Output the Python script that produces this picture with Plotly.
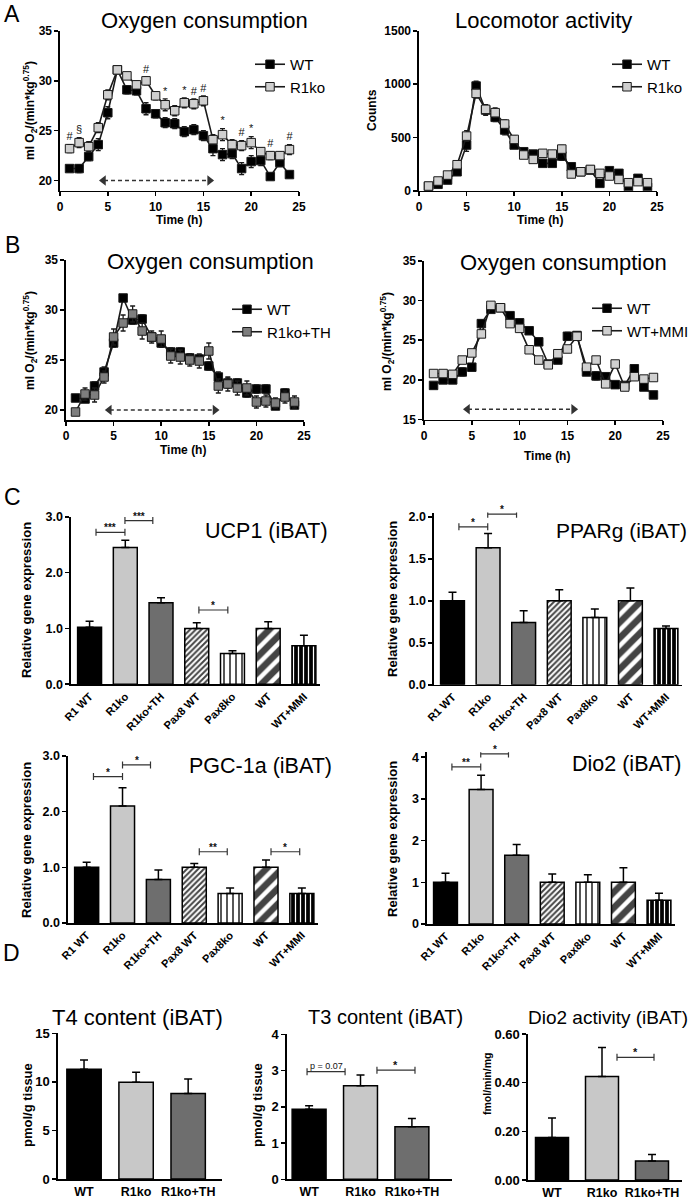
import plotly.graph_objects as go

W, H = 693, 1199
FONT = "Liberation Sans, Arial, Helvetica, sans-serif"

# ---------------- DATA ----------------
HOURS = list(range(1, 25))

# Panel A left: oxygen consumption WT vs R1ko
A_O2_WT = [21.2, 21.2, 22.4, 23.6, 26.8, 31.1, 29.1, 29.0, 27.2, 26.7, 25.8, 25.7,
           24.9, 25.1, 24.5, 23.2, 22.6, 22.7, 21.2, 21.9, 22.0, 20.4, 21.8, 20.6]
A_O2_WT_SEM = [0.3, 0.4, 0.4, 0.6, 0.6, 0.3, 0.4, 0.4, 0.6, 0.4, 0.5, 0.5,
               0.5, 0.5, 0.5, 0.7, 0.6, 0.5, 0.6, 0.6, 0.5, 0.3, 0.4, 0.3]
A_O2_R1KO = [23.2, 23.8, 23.4, 25.3, 28.6, 31.1, 30.5, 29.6, 30.0, 28.5, 27.6, 27.0,
             27.8, 27.7, 28.0, 24.1, 24.6, 23.6, 23.5, 23.8, 22.9, 22.5, 22.5, 23.1]
A_O2_R1KO_SEM = [0.4, 0.5, 0.5, 0.5, 0.5, 0.3, 0.3, 0.4, 0.4, 0.4, 0.6, 0.5,
                 0.5, 0.5, 0.5, 0.5, 0.6, 0.5, 0.5, 0.6, 0.4, 0.4, 0.4, 0.5]
A_O2_SIG = ["#", "§", "", "", "", "", "", "", "#", "", "*", "",
            "*", "#", "#", "", "*", "", "#", "*", "", "#", "", "#"]

# Panel A right: locomotor activity
A_LOCO_WT = [40, 60, 100, 178, 429, 983, 758, 689, 570, 429, 366, 344,
             257, 257, 326, 225, 178, 194, 69, 188, 163, 31, 116, 31]
A_LOCO_WT_SEM = [10, 15, 20, 30, 60, 45, 50, 40, 45, 30, 25, 25,
                 25, 25, 40, 25, 25, 20, 20, 20, 20, 10, 20, 10]
A_LOCO_R1KO = [44, 91, 147, 244, 513, 914, 764, 733, 626, 482, 335, 294,
               351, 344, 391, 157, 178, 200, 163, 138, 106, 75, 85, 75]
A_LOCO_R1KO_SEM = [10, 15, 20, 30, 50, 45, 45, 45, 40, 35, 25, 25,
                   30, 30, 35, 20, 20, 20, 20, 20, 20, 15, 15, 15]

# Panel B left: WT vs R1ko+TH
B_O2_WT = [21.2, 21.1, 22.4, 23.8, 26.7, 31.2, 29.0, 29.1, 27.3, 26.7, 25.8, 25.8,
           25.2, 25.1, 24.4, 23.3, 22.7, 22.7, 21.7, 22.1, 22.1, 20.4, 21.7, 20.5]
B_O2_WT_SEM = [0.3, 0.3, 0.4, 0.5, 0.4, 0.3, 0.4, 0.4, 0.4, 0.4, 0.4, 0.4,
               0.4, 0.4, 0.4, 0.5, 0.5, 0.4, 0.4, 0.4, 0.4, 0.3, 0.4, 0.3]
B_O2_R1KOTH = [19.8, 21.6, 21.5, 23.3, 27.3, 28.7, 29.6, 27.9, 27.3, 27.1, 25.4, 25.3,
               25.0, 24.9, 25.9, 22.4, 22.6, 22.2, 22.2, 20.8, 20.9, 20.7, 21.3, 20.8]
B_O2_R1KOTH_SEM = [0.3, 0.6, 0.7, 0.6, 0.8, 0.8, 0.8, 0.8, 0.6, 0.8, 0.7, 0.7,
                   0.6, 0.7, 0.8, 0.7, 0.7, 0.7, 0.7, 0.6, 0.6, 0.5, 0.6, 0.6]

# Panel B right: WT vs WT+MMI
B_O2_CTRL = [19.3, 20.0, 20.0, 21.0, 21.6, 27.1, 28.9, 29.1, 28.1, 27.2, 26.2, 24.8,
             22.0, 22.5, 25.5, 25.6, 21.0, 20.5, 20.4, 19.4, 19.3, 21.4, 19.1, 18.1]
B_O2_CTRL_SEM = [0.3, 0.4, 0.3, 0.5, 0.4, 0.4, 0.3, 0.3, 0.3, 0.3, 0.3, 0.3,
                 0.3, 0.4, 0.5, 0.4, 0.3, 0.5, 0.4, 0.3, 0.3, 0.4, 0.3, 0.2]
B_O2_MMI = [20.8, 20.8, 20.7, 22.5, 23.4, 25.8, 29.4, 29.1, 27.1, 26.5, 23.8, 22.5,
            21.9, 23.3, 23.9, 25.5, 21.6, 22.5, 19.5, 22.0, 19.1, 20.4, 20.1, 20.3]
B_O2_MMI_SEM = [0.2, 0.2, 0.2, 0.3, 0.3, 0.3, 0.2, 0.2, 0.3, 0.3, 0.3, 0.3,
                0.2, 0.3, 0.3, 0.3, 0.3, 0.3, 0.3, 0.3, 0.2, 0.3, 0.3, 0.3]

# Panel C: relative gene expression (iBAT)
GENE_CATS = ["R1 WT", "R1ko", "R1ko+TH", "Pax8 WT", "Pax8ko", "WT", "WT+MMI"]
UCP1 = [1.02, 2.45, 1.46, 1.00, 0.55, 1.00, 0.69]
UCP1_SEM = [0.11, 0.13, 0.09, 0.10, 0.05, 0.12, 0.19]
PPARG = [1.00, 1.63, 0.74, 1.00, 0.80, 1.00, 0.67]
PPARG_SEM = [0.10, 0.17, 0.14, 0.13, 0.10, 0.15, 0.03]
PGC1A = [1.00, 2.10, 0.78, 1.00, 0.53, 1.00, 0.53]
PGC1A_SEM = [0.09, 0.33, 0.17, 0.07, 0.10, 0.13, 0.10]
DIO2 = [1.00, 3.23, 1.65, 1.00, 1.00, 1.00, 0.57]
DIO2_SEM = [0.22, 0.34, 0.26, 0.20, 0.18, 0.35, 0.17]

# Panel D: thyroid hormone content / Dio2 activity (iBAT)
D_CATS = ["WT", "R1ko", "R1ko+TH"]
T4 = [11.3, 9.95, 8.8]
T4_SEM = [0.95, 1.05, 1.5]
T3 = [1.93, 2.58, 1.45]
T3_SEM = [0.10, 0.30, 0.23]
DIO2_ACT = [0.175, 0.425, 0.078]
DIO2_ACT_SEM = [0.08, 0.12, 0.027]

# dark phase (double arrow) in hours
DARK_PHASE = (4.2, 16.0)

# significance brackets: (from category, to category, label, level)
UCP1_BR = [(0.18, 0.99, "***", 2.72), (0.99, 1.77, "***", 2.93), (3.06, 3.87, "*", 1.33)]
PPARG_BR = [(0.18, 0.99, "*", 1.88), (0.99, 1.80, "*", 2.03)]
PGC1A_BR = [(0.19, 1.00, "*", 2.63), (1.00, 1.78, "*", 2.84), (3.14, 3.92, "**", 1.28), (5.14, 5.94, "*", 1.28)]
DIO2_BR = [(0.18, 0.99, "**", 3.77), (0.99, 1.77, "*", 4.08)]
T3_BR = [(-0.04, 0.70, "p = 0.07", 2.97), (1.32, 2.06, "*", 3.01)]
DIO2_ACT_BR = [(1.30, 2.04, "*", 0.504)]

# ---------------- STYLES ----------------
GENE_FILL = ["black", "#c8c8c8", "#6e6e6e", "white", "white", "white", "black"]
GENE_SHAPE = ["", "", "", "/", "|", "/", "|"]
GENE_FG = ["black", "black", "black", "#333333", "black", "black", "white"]
GENE_PSIZE = [8, 8, 8, 4, 6, 11, 5]
GENE_SOLID = [0.3, 0.3, 0.3, 0.5, 0.3, 0.6, 0.25]
D_FILL = ["black", "#c8c8c8", "#6e6e6e"]

fig = go.Figure()
annotations = []
shapes = []
AXINFO = {}


def keys(i):
    s = "" if i == 1 else str(i)
    return "xaxis" + s, "yaxis" + s, "x" + s, "y" + s


def setup(i, xpx, ypx, xrange, yrange, yticks, yfmt, xticks=None, xlabels=None,
          xangle=0, xtickmarks=True, xfont=12, yfont=12):
    xa, ya, xr, yr = keys(i)
    base = dict(showline=True, linecolor="black", linewidth=1.6, showgrid=False,
                zeroline=False, tickcolor="black", tickwidth=1.6, ticklen=4,
                fixedrange=True, automargin=False)
    xd = dict(base, domain=[xpx[0] / W, xpx[1] / W], range=xrange, anchor=yr,
              ticks="outside" if xtickmarks else "", tickmode="array",
              tickvals=xticks, ticktext=xlabels, tickangle=xangle,
              tickfont=dict(family=FONT, size=xfont, color="black", weight="bold"))
    yd = dict(base, domain=[1 - ypx[1] / H, 1 - ypx[0] / H], range=yrange, anchor=xr,
              ticks="outside", tickmode="array", tickvals=yticks,
              ticktext=[yfmt.format(v) for v in yticks],
              tickfont=dict(family=FONT, size=yfont, color="black", weight="bold"))
    fig.update_layout({xa: xd, ya: yd})
    AXINFO[i] = dict(xr=xr, yr=yr, upp=(yrange[1] - yrange[0]) / (ypx[1] - ypx[0]))
    return xr, yr


def text(px, py, s, size=11, bold=False, angle=0, color="black", xanchor="center"):
    annotations.append(dict(xref="paper", yref="paper", x=px / W, y=1 - py / H, text=s,
                            showarrow=False, textangle=angle, xanchor=xanchor,
                            yanchor="middle", borderpad=0,
                            font=dict(family=FONT, size=size, color=color,
                                      weight="bold" if bold else "normal")))


def line_pair(i, s1, s2, legend):
    xr, yr = AXINFO[i]["xr"], AXINFO[i]["yr"]
    for (name, y, sem, fill) in (s1, s2):
        fig.add_trace(go.Scatter(
            x=HOURS, y=y, mode="lines+markers", name=name, legend=legend,
            line=dict(color="#1a1a1a", width=1.6),
            marker=dict(symbol="square", size=8.5, color=fill,
                        line=dict(color="#1a1a1a", width=1)),
            error_y=dict(type="data", array=sem, color="#1a1a1a", thickness=1.3, width=2.5),
            xaxis=xr, yaxis=yr, hoverinfo="skip"))


def arrow(i, yval):
    xr, yr = AXINFO[i]["xr"], AXINFO[i]["yr"]
    a, b = DARK_PHASE
    shapes.append(dict(type="line", xref=xr, yref=yr, x0=a + 0.4, x1=b - 0.4, y0=yval, y1=yval,
                       line=dict(color="#333", width=1.6, dash="4px,3px")))
    fig.add_trace(go.Scatter(x=[a + 0.35, b - 0.35], y=[yval, yval], mode="markers",
                             marker=dict(symbol=["triangle-left", "triangle-right"], size=9,
                                         color="#333"),
                             showlegend=False, xaxis=xr, yaxis=yr, hoverinfo="skip",
                             cliponaxis=False))


def bars(i, vals, sem, fills, shapes_=None, fgs=None, psize=None, solid=None, width=0.67):
    xr, yr = AXINFO[i]["xr"], AXINFO[i]["yr"]
    n = len(vals)
    marker = dict(color=fills, line=dict(color="black", width=1.5))
    if shapes_ is not None:
        marker["pattern"] = dict(shape=shapes_, fgcolor=fgs, bgcolor=fills, size=psize,
                                 solidity=solid, fgopacity=1, fillmode="overlay")
    fig.add_trace(go.Bar(x=list(range(n)), y=vals, width=width, marker=marker,
                         error_y=dict(type="data", symmetric=False, array=sem,
                                      arrayminus=[0] * n, color="black", thickness=1.5,
                                      width=4),
                         showlegend=False, xaxis=xr, yaxis=yr, hoverinfo="skip"))


def brackets(i, items, size=11):
    xr, yr = AXINFO[i]["xr"], AXINFO[i]["yr"]
    t = 3.5 * AXINFO[i]["upp"]
    for (x0, x1, lab, y) in items:
        shapes.append(dict(type="path", xref=xr, yref=yr,
                           path=f"M {x0},{y - t} L {x0},{y + t} M {x0},{y} L {x1},{y} "
                                f"M {x1},{y - t} L {x1},{y + t}",
                           line=dict(color="#333", width=1.2)))
        small = lab.startswith("p")
        annotations.append(dict(xref=xr, yref=yr, x=(x0 + x1) / 2, y=y, text=lab,
                                showarrow=False, yanchor="bottom", yshift=-3 if not small else -1,
                                font=dict(family=FONT, size=9 if small else size,
                                          color="#111", weight="normal" if small else "bold")))


HOUR_TICKS = [0, 5, 10, 15, 20, 25]
O2_TITLE = "ml O<sub>2</sub>/(min*kg<sup>0.75</sup>)"

# ---- Panel A left ----
setup(1, (60, 299), (31, 190.5), [0, 25], [19, 35], [20, 25, 30, 35], "{:d}", HOUR_TICKS,
      [str(v) for v in HOUR_TICKS])
line_pair(1, ("WT", A_O2_WT, A_O2_WT_SEM, "black"),
          ("R1ko", A_O2_R1KO, A_O2_R1KO_SEM, "#cfcfcf"), "legend")
arrow(1, 20.0)
sig_h = [h for h, s in zip(HOURS, A_O2_SIG) if s]
sig_y = [v + e + 0.15 for s, v, e in zip(A_O2_SIG, A_O2_R1KO, A_O2_R1KO_SEM) if s]
sig_t = [s for s in A_O2_SIG if s]
fig.add_trace(go.Scatter(x=sig_h, y=sig_y, text=sig_t, mode="text", textposition="top center",
                         textfont=dict(family=FONT, size=11, color="#111"), showlegend=False,
                         cliponaxis=False, xaxis="x", yaxis="y", hoverinfo="skip"))

# ---- Panel A right ----
setup(2, (419, 657), (31, 190.7), [0, 25], [0, 1500], [0, 500, 1000, 1500], "{:d}",
      HOUR_TICKS, [str(v) for v in HOUR_TICKS])
line_pair(2, ("WT", A_LOCO_WT, A_LOCO_WT_SEM, "black"),
          ("R1ko", A_LOCO_R1KO, A_LOCO_R1KO_SEM, "#cfcfcf"), "legend2")

# ---- Panel B left ----
setup(3, (66, 304), (260, 420), [0, 25], [19, 35], [20, 25, 30, 35], "{:d}", HOUR_TICKS,
      [str(v) for v in HOUR_TICKS])
line_pair(3, ("WT", B_O2_WT, B_O2_WT_SEM, "black"),
          ("R1ko+TH", B_O2_R1KOTH, B_O2_R1KOTH_SEM, "#7e7e7e"), "legend3")
arrow(3, 20.0)

# ---- Panel B right ----
setup(4, (424, 663), (261, 419.5), [0, 25], [15, 35], [15, 20, 25, 30, 35], "{:d}",
      HOUR_TICKS, [str(v) for v in HOUR_TICKS])
line_pair(4, ("WT", B_O2_CTRL, B_O2_CTRL_SEM, "black"),
          ("WT+MMI", B_O2_MMI, B_O2_MMI_SEM, "#d0d0d0"), "legend4")
arrow(4, 16.3)

# ---- Panel C ----
GI = list(range(len(GENE_CATS)))
c_specs = [
    (5, (71, 320), (516.7, 684.3), [0, 3.0], [0, 1, 2, 3], "{:.1f}", UCP1, UCP1_SEM, UCP1_BR),
    (6, (434, 682), (512.5, 684.7), [0, 2.05], [0, 0.5, 1.0, 1.5, 2.0], "{:.1f}", PPARG, PPARG_SEM, PPARG_BR),
    (7, (68, 318), (756, 923), [0, 3.0], [0, 1, 2, 3], "{:.1f}", PGC1A, PGC1A_SEM, PGC1A_BR),
    (8, (427, 675), (752.3, 924), [0, 4.12], [0, 1, 2, 3, 4], "{:d}", DIO2, DIO2_SEM, DIO2_BR),
]
for (i, xp, yp, yrg, yt, fmt, vals, sem, br) in c_specs:
    setup(i, xp, yp, [-0.52, 6.45], yrg, yt, fmt, GI, GENE_CATS, xangle=-45,
          xtickmarks=False, xfont=11, yfont=12.5)
    bars(i, vals, sem, GENE_FILL, GENE_SHAPE, GENE_FG, GENE_PSIZE, GENE_SOLID)
    brackets(i, br, size=10)

# ---- Panel D ----
DI = list(range(len(D_CATS)))
d_specs = [
    (9, (58, 222), (1033.3, 1179), [-0.5, 2.65], [0, 15], [0, 5, 10, 15], "{:d}", T4, T4_SEM, []),
    (10, (287, 452), (1034.3, 1179.3), [-0.43, 2.78], [0, 4], [0, 1, 2, 3, 4], "{:d}", T3, T3_SEM, T3_BR),
    (11, (528, 682), (1034, 1180), [-0.48, 2.6], [0, 0.6], [0, 0.2, 0.4, 0.6], "{:.2f}", DIO2_ACT, DIO2_ACT_SEM, DIO2_ACT_BR),
]
for (i, xp, yp, xrg, yrg, yt, fmt, vals, sem, br) in d_specs:
    setup(i, xp, yp, xrg, yrg, yt, fmt, DI, D_CATS, xtickmarks=False, xfont=12.5, yfont=13)
    bars(i, vals, sem, D_FILL, width=0.66)
    brackets(i, br, size=11)

# ---------------- TEXT ----------------
for (lab, px, py) in (("A", 12, 14), ("B", 12, 245), ("C", 12, 497), ("D", 11, 953)):
    text(px, py, lab, size=23)

text(204, 20, "Oxygen consumption", size=22)
text(543, 20, "Locomotor activity", size=22)
text(210, 261, "Oxygen consumption", size=22)
text(563, 262, "Oxygen consumption", size=22)
text(266, 531, "UCP1 (iBAT)", size=21.5)
text(621, 531, "PPARg (iBAT)", size=21)
text(260, 766, "PGC-1a (iBAT)", size=21.5)
text(627, 764, "Dio2 (iBAT)", size=21.5)
text(137, 1017, "T4 content (iBAT)", size=22)
text(385, 1017, "T3 content (iBAT)", size=20)
text(608, 1017, "Dio2 activity (iBAT)", size=19)

text(30, 111, O2_TITLE, size=12, bold=True, angle=-90)
text(372, 110, "Counts", size=12, bold=True, angle=-90)
text(30, 341, O2_TITLE, size=12, bold=True, angle=-90)
text(387, 342, O2_TITLE, size=12, bold=True, angle=-90)
text(179, 220, "Time (h)", size=12, bold=True)
text(540, 220, "Time (h)", size=12, bold=True)
text(183, 450, "Time (h)", size=12, bold=True)
text(547, 456, "Time (h)", size=12, bold=True)

text(26, 600, "Relative gene expression", size=13, bold=True, angle=-90)
text(392, 599, "Relative gene expression", size=13, bold=True, angle=-90)
text(26, 840, "Relative gene expression", size=13, bold=True, angle=-90)
text(392, 839, "Relative gene expression", size=13, bold=True, angle=-90)

text(27, 1105, "pmol/g tissue", size=13, bold=True, angle=-90)
text(257, 1105, "pmol/g tissue", size=13, bold=True, angle=-90)
text(487, 1084, "fmol/min/mg", size=10.5, bold=True, angle=-90)

leg = dict(xanchor="left", yanchor="top", bgcolor="rgba(0,0,0,0)", borderwidth=0,
           font=dict(family=FONT, size=15, color="black"), itemwidth=30, tracegroupgap=0)

fig.update_layout(
    template="none",
    width=W, height=H, margin=dict(l=0, r=0, t=0, b=0, pad=0, autoexpand=False),
    paper_bgcolor="white", plot_bgcolor="white", showlegend=True,
    legend=dict(leg, x=250 / W, y=1 - 48 / H),
    legend2=dict(leg, x=607 / W, y=1 - 48 / H),
    legend3=dict(leg, x=227 / W, y=1 - 293 / H),
    legend4=dict(leg, x=587 / W, y=1 - 292 / H),
    annotations=annotations, shapes=shapes, bargap=0.3,
)

fig.write_html("out.html", config={"displayModeBar": False, "staticPlot": True},
               post_script="document.body.style.margin='0';"
                           "document.documentElement.style.overflow='hidden';")
